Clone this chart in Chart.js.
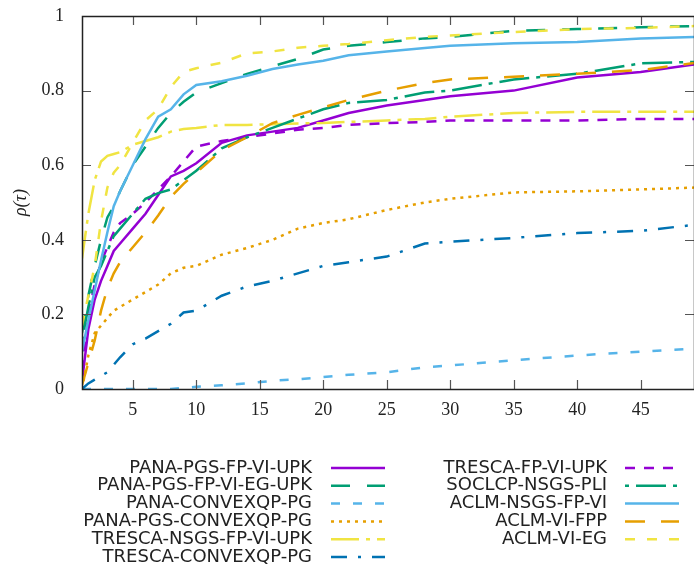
<!DOCTYPE html>
<html>
<head>
<meta charset="utf-8">
<script src="https://cdn.jsdelivr.net/npm/chart.js@4.4.1/dist/chart.umd.min.js"></script>
<style>
  body { margin: 0; background: #fff; }
  #wrap { width: 694px; height: 569px; }
</style>
</head>
<body>
<div id="wrap"><canvas id="profile" width="694" height="569"></canvas></div>
<script>
const taus = [1, 1.5, 2, 2.5, 3, 3.5, 4, 5, 6, 7, 8, 9, 10, 12, 14, 16, 18, 20, 22, 25, 28, 30, 35, 40, 45, 49.2];

const panaFpViUpk     = [0.02, 0.16, 0.24, 0.29, 0.33, 0.37, 0.39, 0.43, 0.47, 0.52, 0.57, 0.585, 0.605, 0.66, 0.68, 0.69, 0.70, 0.72, 0.74, 0.76, 0.775, 0.785, 0.80, 0.835, 0.85, 0.87];
const panaFpViEgUpk   = [0.15, 0.25, 0.33, 0.40, 0.46, 0.49, 0.53, 0.60, 0.65, 0.70, 0.74, 0.77, 0.795, 0.82, 0.845, 0.865, 0.885, 0.91, 0.92, 0.93, 0.94, 0.944, 0.96, 0.965, 0.97, 0.973];
const panaConvexqp    = [0, 0, 0, 0, 0, 0, 0, 0, 0, 0, 0, 0.003, 0.006, 0.01, 0.015, 0.022, 0.026, 0.032, 0.038, 0.045, 0.058, 0.063, 0.077, 0.09, 0.1, 0.108];
const panaPgsConvexqp = [0, 0.09, 0.15, 0.17, 0.19, 0.21, 0.22, 0.24, 0.26, 0.28, 0.31, 0.325, 0.33, 0.36, 0.378, 0.40, 0.43, 0.445, 0.455, 0.48, 0.50, 0.51, 0.527, 0.53, 0.535, 0.54];
const trescaNsgs      = [0.35, 0.47, 0.56, 0.61, 0.625, 0.63, 0.635, 0.655, 0.665, 0.675, 0.69, 0.697, 0.70, 0.708, 0.708, 0.71, 0.712, 0.713, 0.716, 0.72, 0.724, 0.73, 0.74, 0.743, 0.743, 0.743];
const trescaConvexqp  = [0, 0.015, 0.025, 0.035, 0.045, 0.065, 0.085, 0.12, 0.135, 0.155, 0.175, 0.205, 0.21, 0.25, 0.275, 0.29, 0.31, 0.33, 0.34, 0.355, 0.39, 0.395, 0.405, 0.418, 0.424, 0.44];
const trescaFpViUpk   = [0.05, 0.2, 0.28, 0.34, 0.38, 0.42, 0.445, 0.47, 0.50, 0.535, 0.57, 0.61, 0.65, 0.665, 0.675, 0.685, 0.695, 0.70, 0.708, 0.713, 0.716, 0.72, 0.72, 0.72, 0.724, 0.724];
const soclcp          = [0.13, 0.22, 0.30, 0.33, 0.37, 0.41, 0.43, 0.47, 0.51, 0.525, 0.535, 0.56, 0.585, 0.645, 0.675, 0.70, 0.725, 0.75, 0.767, 0.775, 0.795, 0.80, 0.83, 0.845, 0.873, 0.877];
const aclmNsgs        = [0.1, 0.185, 0.265, 0.345, 0.42, 0.49, 0.53, 0.60, 0.67, 0.73, 0.75, 0.79, 0.815, 0.825, 0.84, 0.858, 0.87, 0.88, 0.895, 0.905, 0.914, 0.92, 0.927, 0.93, 0.94, 0.944];
const aclmViFpp       = [0.01, 0.07, 0.13, 0.21, 0.27, 0.31, 0.34, 0.38, 0.42, 0.465, 0.515, 0.55, 0.58, 0.64, 0.675, 0.713, 0.735, 0.755, 0.775, 0.80, 0.82, 0.83, 0.837, 0.845, 0.855, 0.874];
const aclmViEg        = [0.17, 0.25, 0.33, 0.45, 0.54, 0.58, 0.60, 0.66, 0.72, 0.75, 0.81, 0.85, 0.86, 0.875, 0.90, 0.905, 0.915, 0.92, 0.925, 0.935, 0.944, 0.948, 0.957, 0.965, 0.968, 0.973];

const xTickValues = [5, 10, 15, 20, 25, 30, 35, 40, 45];
const yTickValues = [0, 0.2, 0.4, 0.6, 0.8, 1];
const yTickLabels = ["0", "0.2", "0.4", "0.6", "0.8", "1"];

const series = [
    { label: "PANA-PGS-FP-VI-UPK",     data: panaFpViUpk,     color: "#9400d3", dash: [] },
    { label: "PANA-PGS-FP-VI-EG-UPK",  data: panaFpViEgUpk,   color: "#009e73", dash: [19, 17] },
    { label: "PANA-CONVEXQP-PG",       data: panaConvexqp,    color: "#56b4e9", dash: [9, 13] },
    { label: "PANA-PGS-CONVEXQP-PG",   data: panaPgsConvexqp, color: "#e69f00", dash: [3, 5] },
    { label: "TRESCA-NSGS-FP-VI-UPK",  data: trescaNsgs,      color: "#f0e442", dash: [28, 7, 4, 7] },
    { label: "TRESCA-CONVEXQP-PG",     data: trescaConvexqp,  color: "#0072b2", dash: [16, 11, 3, 11] },
    { label: "TRESCA-FP-VI-UPK",       data: trescaFpViUpk,   color: "#9400d3", dash: [10, 9] },
    { label: "SOCLCP-NSGS-PLI",        data: soclcp,          color: "#009e73", dash: [4, 7, 30, 7] },
    { label: "ACLM-NSGS-FP-VI",        data: aclmNsgs,        color: "#56b4e9", dash: [] },
    { label: "ACLM-VI-FPP",            data: aclmViFpp,       color: "#e69f00", dash: [20, 16] },
    { label: "ACLM-VI-EG",             data: aclmViEg,        color: "#f0e442", dash: [10, 12] }
];

const datasets = series.map((s, i) => ({
    label: s.label,
    data: s.data.map((v, k) => ({ x: taus[k], y: v })),
    borderColor: s.color,
    backgroundColor: s.color,
    borderDash: s.dash,
    borderWidth: 2.5,
    pointRadius: 0,
    tension: 0,
    fill: false,
    order: series.length - i   // gnuplot draws later curves on top
}));

// box + inward ticks on all four sides
const framePlugin = {
    id: "frame",
    afterDraw(chart) {
        const ctx = chart.ctx;
        const a = chart.chartArea;
        const xs = chart.scales.x, ys = chart.scales.y;
        ctx.save();
        ctx.strokeStyle = "#555";
        ctx.lineWidth = 1.2;
        ctx.beginPath();
        xTickValues.forEach(v => {
            const px = Math.round(xs.getPixelForValue(v)) + 0.5;
            ctx.moveTo(px, a.bottom); ctx.lineTo(px, a.bottom - 9);
            ctx.moveTo(px, a.top); ctx.lineTo(px, a.top + 9);
        });
        yTickValues.forEach(v => {
            const py = Math.round(ys.getPixelForValue(v)) + 0.5;
            ctx.moveTo(a.left, py); ctx.lineTo(a.left + 9, py);
            ctx.moveTo(a.right, py); ctx.lineTo(a.right - 9, py);
        });
        ctx.stroke();
        ctx.strokeStyle = "#222";
        ctx.lineWidth = 1.5;
        ctx.strokeRect(a.left + 0.5, a.top + 0.5, a.right - a.left, a.bottom - a.top);
        ctx.restore();
    }
};

// gnuplot style key: text right aligned, sample line after it, two columns
const keyPlugin = {
    id: "gpKey",
    afterDraw(chart) {
        const ctx = chart.ctx;
        const cols = [{ textRight: 312, x0: 331, x1: 385 }, { textRight: 607, x0: 625, x1: 679 }];
        ctx.save();
        ctx.font = "18px 'DejaVu Sans'";
        ctx.textAlign = "right";
        ctx.textBaseline = "middle";
        chart.data.datasets.forEach((ds, i) => {
            const c = i < 6 ? cols[0] : cols[1];
            const row = i < 6 ? i : i - 6;
            const y = 468 + row * 17.8;
            ctx.fillStyle = "#222";
            ctx.fillText(ds.label, c.textRight, y);
            ctx.strokeStyle = ds.borderColor;
            ctx.lineWidth = ds.borderWidth;
            ctx.setLineDash(ds.borderDash);
            ctx.beginPath();
            ctx.moveTo(c.x0, y);
            ctx.lineTo(c.x1, y);
            ctx.stroke();
            ctx.setLineDash([]);
        });
        ctx.restore();
    }
};

const serif = "'Liberation Serif', 'DejaVu Serif', serif";

new Chart(document.getElementById("profile"), {
    type: "line",
    data: { datasets: datasets },
    options: {
        responsive: false,
        animation: false,
        layout: { padding: { top: 16, right: 0, bottom: 0, left: 0 } },
        plugins: {
            legend: { display: false },
            tooltip: { enabled: false }
        },
        scales: {
            x: {
                type: "linear",
                min: 1,
                max: 49.2,
                grid: { display: false, drawTicks: false, tickLength: 0 },
                border: { display: false },
                afterBuildTicks: scale => { scale.ticks = xTickValues.map(v => ({ value: v })); },
                afterFit: scale => { scale.height = 180; },
                ticks: {
                    autoSkip: false,
                    maxRotation: 0,
                    padding: 10,
                    color: "#222",
                    font: { family: serif, size: 18 }
                }
            },
            y: {
                type: "linear",
                min: 0,
                max: 1,
                grid: { display: false, drawTicks: false, tickLength: 0 },
                border: { display: false },
                afterBuildTicks: scale => { scale.ticks = yTickValues.map(v => ({ value: v })); },
                afterFit: scale => {
                    scale.width = 82;
                    scale.paddingTop = 0;
                    scale.paddingBottom = 0;
                },
                ticks: {
                    autoSkip: false,
                    padding: 18,
                    color: "#222",
                    font: { family: serif, size: 18 },
                    callback: v => yTickLabels[yTickValues.indexOf(v)]
                },
                title: {
                    display: true,
                    text: "ρ(τ)",
                    color: "#222",
                    padding: { top: 10, bottom: 0 },
                    font: { family: serif, size: 18, style: "italic" }
                }
            }
        }
    },
    plugins: [framePlugin, keyPlugin]
});
</script>
</body>
</html>
